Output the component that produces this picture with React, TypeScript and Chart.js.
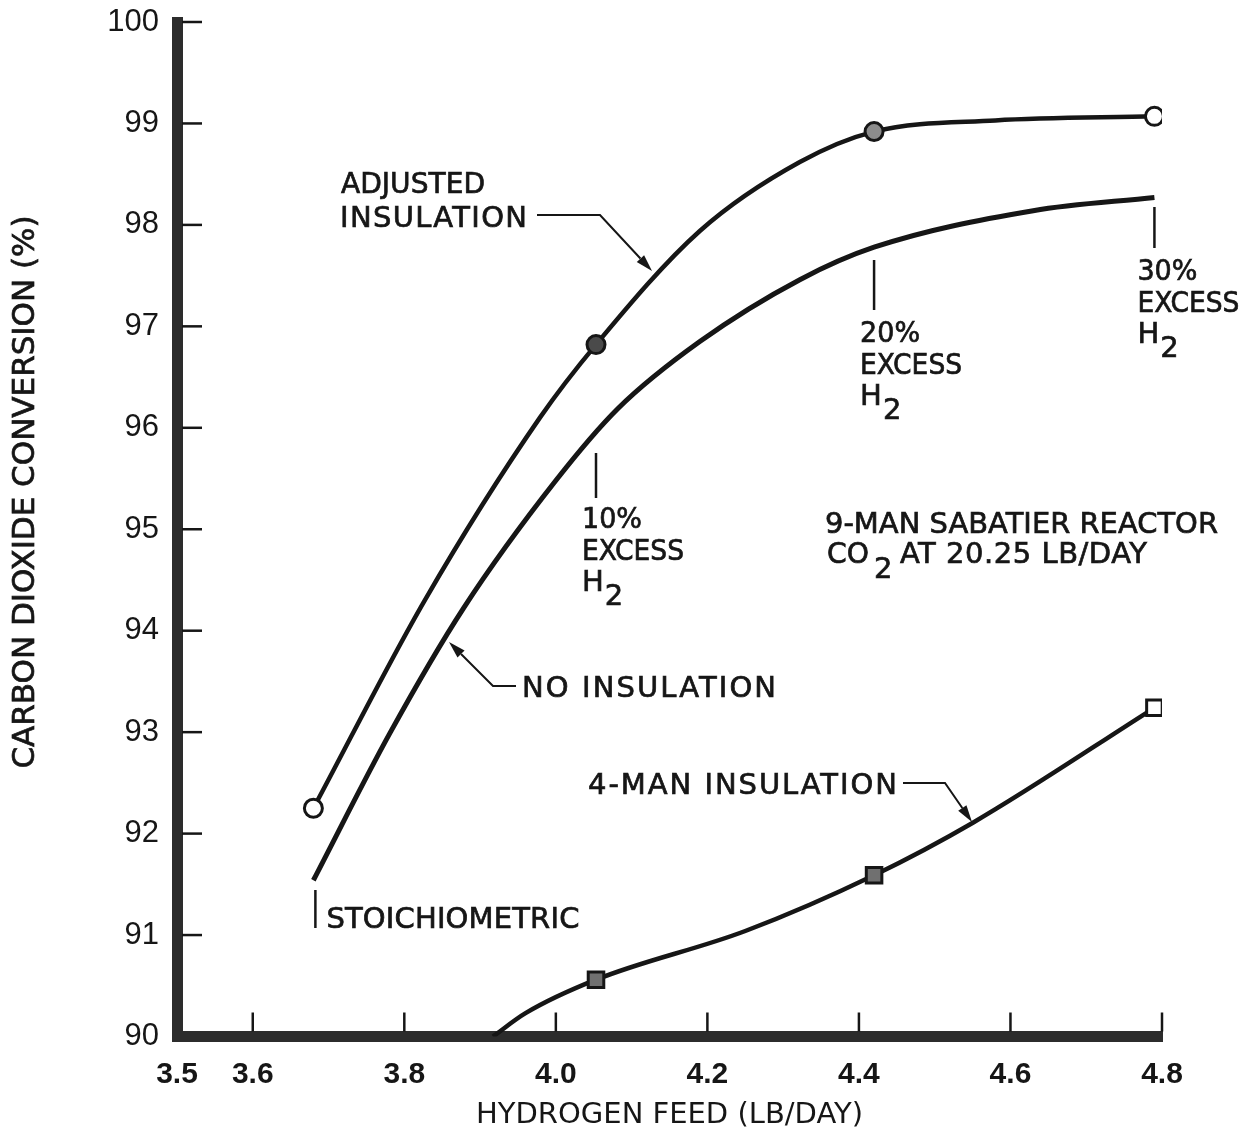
import { useEffect, useRef } from 'react';
import { Chart, registerables } from 'chart.js';

Chart.register(...registerables);

// Hydrogen feed (lb/day) tick positions along the x axis
const xTickValues = [3.5, 3.6, 3.8, 4.0, 4.2, 4.4, 4.6, 4.8];

// Adjusted insulation curve
const adjustedFeed = [3.68, 3.827, 3.979, 4.053, 4.19, 4.322, 4.42, 4.58, 4.79];
const adjustedConversion = [92.25, 94.3, 96.1, 96.82, 97.94, 98.62, 98.92, 99.03, 99.07];
// Measured points on the adjusted insulation curve
const adjustedPointFeed = [3.68, 4.053, 4.42, 4.79];
const adjustedPointConversion = [92.25, 96.82, 98.92, 99.07];

// No insulation curve
const bareFeed = [3.68, 3.781, 3.878, 4.0, 4.082, 4.19, 4.322, 4.42, 4.63, 4.79];
const bareConversion = [91.54, 92.99, 94.22, 95.48, 96.19, 96.85, 97.46, 97.78, 98.14, 98.27];

// 4-man insulation curve
const fourManFeed = [3.917, 3.96, 4.053, 4.25, 4.42, 4.551, 4.79];
const fourManConversion = [90.0, 90.23, 90.56, 91.04, 91.59, 92.11, 93.24];
// Measured points on the 4-man insulation curve
const fourManPointFeed = [4.053, 4.42, 4.79];
const fourManPointConversion = [90.56, 91.59, 93.24];

// Feed rates marked as stoichiometric multiples
const excessFeed = [4.053, 4.42, 4.79];
const excessLabels = ['10%', '20%', '30%'];

const INK = '#161616';
const AXIS = '#2c2c2c';
const FONT = '"DejaVu Sans", sans-serif';

const toPoints = (xs: number[], ys: number[]) => xs.map((x, i) => ({ x, y: ys[i] }));

type Ctx = CanvasRenderingContext2D;

function segment(ctx: Ctx, x0: number, y0: number, x1: number, y1: number) {
  ctx.beginPath();
  ctx.moveTo(x0, y0);
  ctx.lineTo(x1, y1);
  ctx.stroke();
}

// Text with a slightly heavier stroke, optionally spread or squeezed to a given width
function label(ctx: Ctx, text: string, x: number, y: number, width?: number) {
  const prevWidth = ctx.lineWidth;
  ctx.lineWidth = 0.7;
  ctx.letterSpacing = '0px';
  if (width !== undefined) {
    const w = ctx.measureText(text).width;
    if (w > width) {
      ctx.fillText(text, x, y, width);
      ctx.strokeText(text, x, y, width);
      ctx.lineWidth = prevWidth;
      return;
    }
    const gap = (width - w) / Math.max(1, text.length - 1);
    ctx.letterSpacing = `${gap}px`;
  }
  ctx.fillText(text, x, y);
  ctx.strokeText(text, x, y);
  ctx.letterSpacing = '0px';
  ctx.lineWidth = prevWidth;
}

// Polyline ending in a slim arrowhead at its last point
function leader(ctx: Ctx, pts: [number, number][]) {
  const n = pts.length;
  const [tx, ty] = pts[n - 1];
  const [px, py] = pts[n - 2];
  const ang = Math.atan2(ty - py, tx - px);
  const headLen = 17;
  const half = 5;
  const bx = tx - headLen * Math.cos(ang);
  const by = ty - headLen * Math.sin(ang);
  ctx.lineWidth = 2;
  ctx.beginPath();
  ctx.moveTo(pts[0][0], pts[0][1]);
  for (let i = 1; i < n - 1; i++) ctx.lineTo(pts[i][0], pts[i][1]);
  ctx.lineTo(bx, by);
  ctx.stroke();
  ctx.beginPath();
  ctx.moveTo(tx, ty);
  ctx.lineTo(bx + half * Math.sin(ang), by - half * Math.cos(ang));
  ctx.lineTo(bx - half * Math.sin(ang), by + half * Math.cos(ang));
  ctx.closePath();
  ctx.fill();
}

// "H" followed by a lowered "2"
function hydrogen(ctx: Ctx, x: number, y: number) {
  label(ctx, 'H', x, y);
  const w = ctx.measureText('H').width;
  label(ctx, '2', x + w + 1, y + 14);
}

function excessLabel(ctx: Ctx, pct: string, x: number, y: number) {
  label(ctx, pct, x, y, 60);
  label(ctx, 'EXCESS', x, y + 32, 102);
  hydrogen(ctx, x, y + 63);
}

const notesPlugin = {
  id: 'notes',
  afterDraw(chart: Chart) {
    const ctx = chart.ctx;
    const xs = chart.scales.x;
    const ys = chart.scales.y;
    const { left, bottom } = chart.chartArea;
    ctx.save();
    ctx.strokeStyle = INK;
    ctx.fillStyle = INK;
    ctx.lineCap = 'butt';

    // tick marks pointing into the plot
    ctx.lineWidth = 2.5;
    ys.ticks.forEach((t) => {
      if (t.value <= 90) return;
      const py = ys.getPixelForValue(t.value);
      segment(ctx, left + 5, py, left + 25, py);
    });
    xs.ticks.forEach((t) => {
      if (t.value <= 3.5) return;
      const px = xs.getPixelForValue(t.value);
      segment(ctx, px, bottom - 5, px, bottom - 24);
    });

    // y axis title
    ctx.save();
    ctx.translate(18, 484);
    ctx.rotate(-Math.PI / 2);
    ctx.font = `31px ${FONT}`;
    ctx.textAlign = 'center';
    ctx.textBaseline = 'middle';
    label(ctx, 'CARBON DIOXIDE CONVERSION (%)', 0, 0);
    ctx.restore();

    ctx.font = `29px ${FONT}`;
    ctx.textAlign = 'left';
    ctx.textBaseline = 'alphabetic';

    // curve labels with leaders
    label(ctx, 'ADJUSTED', 333, 185, 144);
    label(ctx, 'INSULATION', 332, 219, 187);
    leader(ctx, [[529, 207], [592, 207], [644, 263]]);

    label(ctx, 'NO INSULATION', 514, 689, 254);
    leader(ctx, [[508, 678], [485, 678], [441, 634]]);

    label(ctx, '4-MAN INSULATION', 580, 786, 309);
    leader(ctx, [[895, 775], [937, 775], [964, 814]]);

    // stoichiometric feed marker
    ctx.lineWidth = 2.5;
    const sx = xs.getPixelForValue(3.68);
    segment(ctx, sx + 2, 882, sx + 2, 920);
    label(ctx, 'STOICHIOMETRIC', sx + 13, 920, 253);

    // excess hydrogen markers
    const tops = [445, 252, 199];
    const bots = [490, 302, 240];
    const textY = [520, 334, 272];
    const shift = [14, 14, 17];
    excessFeed.forEach((f, i) => {
      const px = xs.getPixelForValue(f);
      ctx.lineWidth = 2.5;
      segment(ctx, px, tops[i], px, bots[i]);
      excessLabel(ctx, excessLabels[i], px - shift[i], textY[i]);
    });

    // reactor note
    label(ctx, '9-MAN SABATIER REACTOR', 817, 525, 393);
    label(ctx, 'CO', 819, 555, 42);
    label(ctx, '2', 866, 570);
    label(ctx, 'AT 20.25 LB/DAY', 892, 555, 247);

    ctx.restore();
  },
};

export default function App() {
  const canvasRef = useRef<HTMLCanvasElement>(null);

  useEffect(() => {
    const canvas = canvasRef.current;
    if (!canvas) return;
    const lineStyle = {
      showLine: true,
      borderColor: INK,
      pointRadius: 0,
      cubicInterpolationMode: 'monotone' as const,
      order: 2,
    };
    const chart = new Chart(canvas, {
      type: 'scatter',
      data: {
        datasets: [
          {
            label: 'Adjusted insulation points',
            data: toPoints(adjustedPointFeed, adjustedPointConversion),
            pointStyle: 'circle',
            pointRadius: 9,
            pointBorderWidth: 3,
            pointBorderColor: INK,
            pointBackgroundColor: ['#ffffff', '#4a4a4a', '#8c8c8c', '#ffffff'],
            order: 0,
          },
          {
            label: '4-man insulation points',
            data: toPoints(fourManPointFeed, fourManPointConversion),
            pointStyle: 'rect',
            pointRadius: 11,
            pointBorderWidth: 3,
            pointBorderColor: INK,
            pointBackgroundColor: ['#707070', '#707070', '#ffffff'],
            order: 0,
          },
          {
            label: 'Adjusted insulation',
            data: toPoints(adjustedFeed, adjustedConversion),
            borderWidth: 4.5,
            ...lineStyle,
          },
          {
            label: 'No insulation',
            data: toPoints(bareFeed, bareConversion),
            borderWidth: 5,
            ...lineStyle,
          },
          {
            label: '4-man insulation',
            data: toPoints(fourManFeed, fourManConversion),
            borderWidth: 4.5,
            ...lineStyle,
          },
        ],
      },
      options: {
        responsive: false,
        animation: false,
        events: [],
        layout: { padding: { top: 12.5, right: 83, left: 0, bottom: 0 } },
        plugins: {
          legend: { display: false },
          tooltip: { enabled: false },
        },
        scales: {
          x: {
            type: 'linear',
            min: 3.5,
            max: 4.8,
            afterBuildTicks: (scale) => {
              scale.ticks = xTickValues.map((value) => ({ value }));
            },
            afterFit: (scale) => {
              scale.height = 97.5;
              scale.paddingLeft = 0;
              scale.paddingRight = 0;
            },
            grid: { drawOnChartArea: false, drawTicks: false },
            border: { display: true, width: 11, color: AXIS },
            ticks: {
              autoSkip: false,
              maxRotation: 0,
              padding: 20,
              color: INK,
              font: { family: '"Liberation Sans", sans-serif', size: 30, weight: 'bold' },
              callback: (v) => Number(v).toFixed(1),
            },
            title: {
              display: true,
              text: 'HYDROGEN FEED (LB/DAY)',
              color: INK,
              font: { family: FONT, size: 29 },
              padding: { top: 0, bottom: 1 },
            },
          },
          y: {
            type: 'linear',
            min: 90,
            max: 100,
            afterFit: (scale) => {
              scale.width = 169;
              scale.paddingTop = 0;
              scale.paddingBottom = 0;
            },
            grid: { drawOnChartArea: false, drawTicks: false },
            border: { display: true, width: 11, color: AXIS },
            ticks: {
              stepSize: 1,
              padding: 18,
              color: INK,
              font: { family: '"Liberation Sans", sans-serif', size: 31 },
            },
          },
        },
      },
      plugins: [notesPlugin],
    });
    return () => chart.destroy();
  }, []);

  return (
    <canvas
      ref={canvasRef}
      width={1237}
      height={1126}
      style={{ display: 'block', width: 1237, height: 1126 }}
    />
  );
}
